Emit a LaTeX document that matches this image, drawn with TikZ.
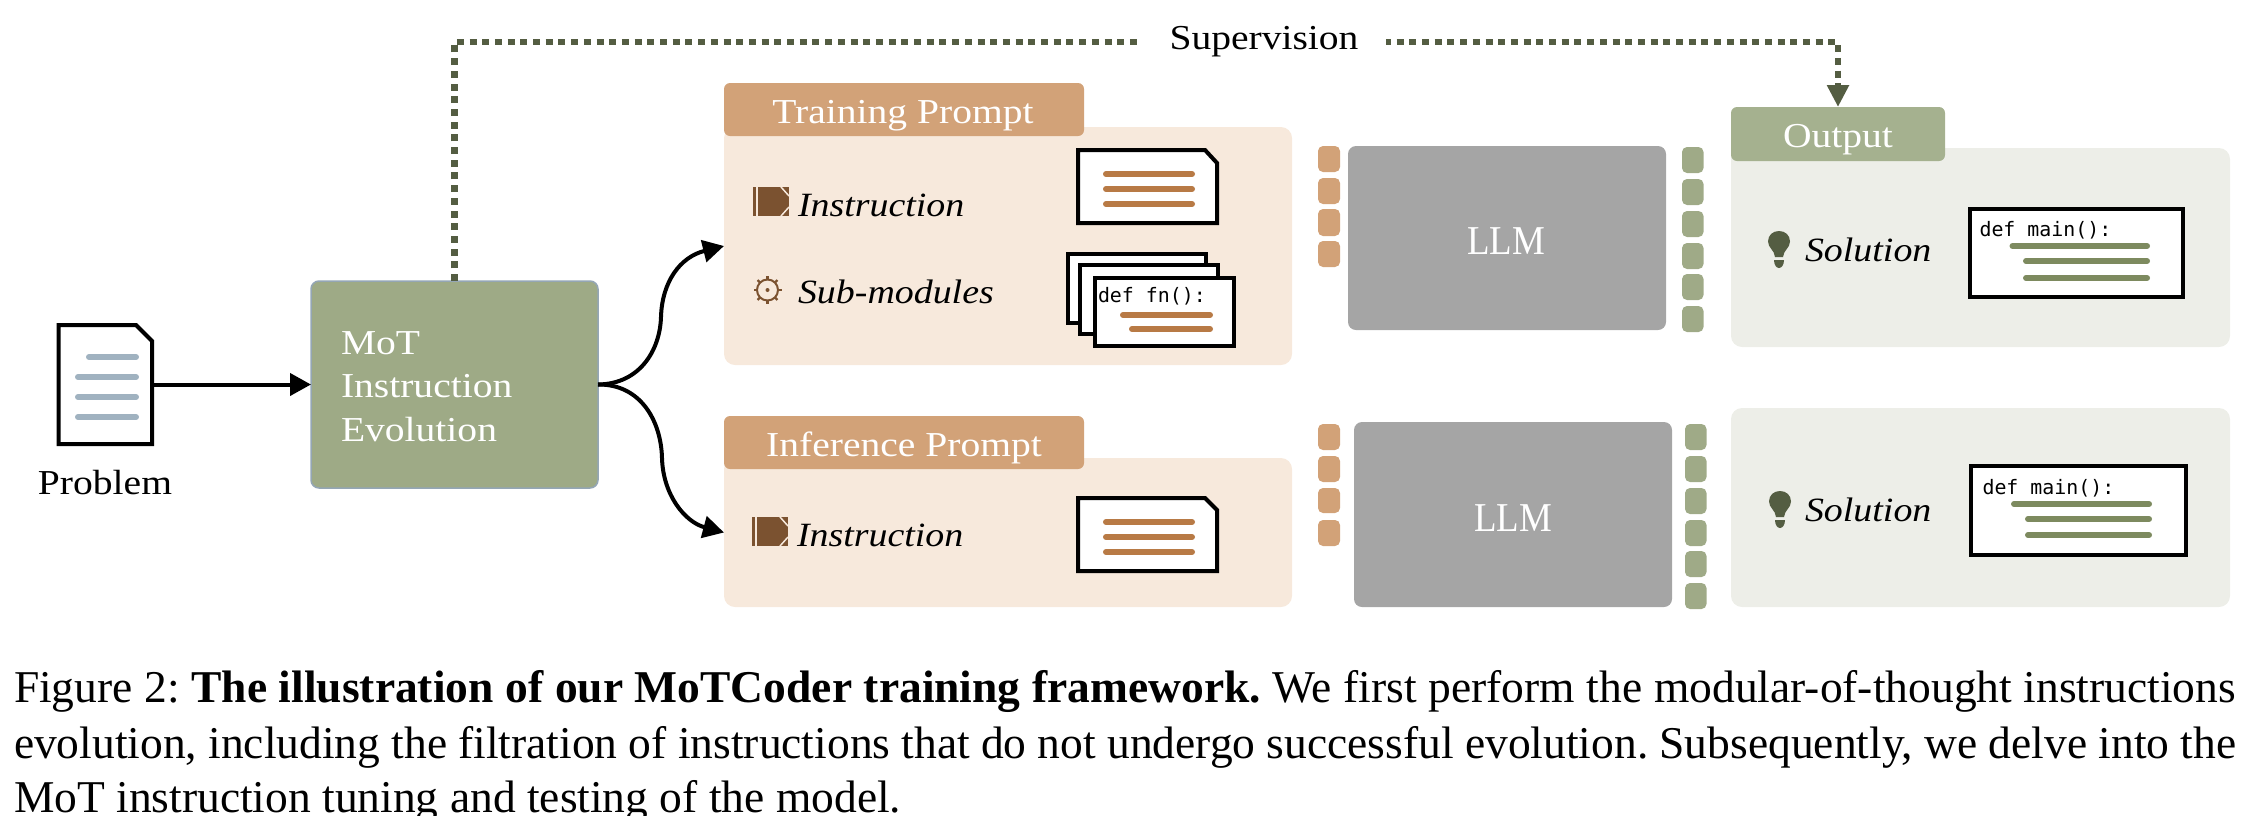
\documentclass[tikz,border=0pt]{standalone}
\usepackage{fontspec}
\usetikzlibrary{arrows.meta}
\setmainfont{Liberation Serif}
\newfontfamily\cam[FakeStretch=1.13]{Liberation Serif}
\newfontfamily\camit[FakeStretch=1.115]{Liberation Serif Italic}
\newfontfamily\camn[FakeStretch=0.9]{Liberation Serif}
\newfontfamily\codef{DejaVu Sans Mono}
\definecolor{motfill}{HTML}{9EAA86}
\definecolor{motedge}{HTML}{94A6B5}
\definecolor{tabbrown}{HTML}{D2A278}
\definecolor{panelbrown}{HTML}{F7E9DC}
\definecolor{llmgrey}{HTML}{A5A5A5}
\definecolor{chipgreen}{HTML}{9FAA87}
\definecolor{tabgreen}{HTML}{A5B18F}
\definecolor{panelgreen}{HTML}{EDEEE8}
\definecolor{darkolive}{HTML}{545D42}
\definecolor{lineblue}{HTML}{A0B2C0}
\definecolor{linebrown}{HTML}{B87A45}
\definecolor{linegreen}{HTML}{7D8A5F}
\definecolor{bookbrown}{HTML}{7B5230}
\tikzset{
  rbase/.style={anchor=north west,inner sep=0pt,outer sep=0pt},
  ghost/.style={rbase},
  motbox/.style={rbase,fill=motfill,draw=motedge,line width=1.5pt,rounded corners=8pt},
  panelb/.style={rbase,fill=panelbrown,rounded corners=11pt},
  tabb/.style={rbase,fill=tabbrown,rounded corners=6pt},
  panelg/.style={rbase,fill=panelgreen,rounded corners=11pt},
  tabg/.style={rbase,fill=tabgreen,rounded corners=6pt},
  chipb/.style={rbase,fill=tabbrown,rounded corners=5pt},
  chipg/.style={rbase,fill=chipgreen,rounded corners=5pt},
  llmbox/.style={rbase,fill=llmgrey,rounded corners=8pt},
  paper/.style={rbase,fill=white,draw=black,line width=4pt},
  sheet/.style={fill=white,draw=black,line width=4pt,miter limit=10},
  bar/.style={line width=6pt,line cap=round},
  lab/.style={inner sep=0pt,outer sep=0pt,anchor=base,yshift=-0.7pt,font=\cam\fontsize{35}{35}\selectfont},
  wlab/.style={lab,text=white},
  llmlab/.style={inner sep=0pt,outer sep=0pt,anchor=base,text=white,font=\camn\fontsize{41}{41}\selectfont},
  ital/.style={inner sep=0pt,outer sep=0pt,anchor=base west,yshift=-1.2pt,font=\camit\fontsize{34}{34}\selectfont},
  codetxt/.style={inner sep=0pt,outer sep=0pt,anchor=base west,font=\codef\fontsize{19.9}{20}\selectfont},
  captxt/.style={inner sep=0pt,outer sep=0pt,anchor=base west,font=\frenchspacing\fontsize{45.5}{46}\selectfont},
  flow/.style={line width=4pt,draw=black,-{Triangle[length=21pt,width=22pt]}},
  superv/.style={line width=6.5pt,draw=darkolive,dash pattern=on 7pt off 5.7pt,-{Triangle[length=22pt,width=21pt,fill=darkolive]}},
}
\newcommand{\rb}[6]{%
  \pgfmathsetmacro\rbw{#5-#3}\pgfmathsetmacro\rbh{#6-#4}%
  \node[#1,minimum width=\rbw pt,minimum height=\rbh pt] (#2) at (#3,#4) {};}
\newcommand{\txtbar}[4]{\draw[bar,#1] (#2+3,#4) -- (#3-3,#4);}
\newcommand{\bookicon}[2]{%
  \begin{scope}[shift={(#1,#2)}]
    \fill[bookbrown] (0,0) rectangle (36,29);
    \draw[panelbrown,line width=1.2pt] (4,0) -- (4,29);
    \draw[panelbrown,line width=1.5pt] (28,0) -- (36,9) (36,20) -- (28,29);
  \end{scope}}
\newcommand{\bulbicon}[2]{%
  \begin{scope}[shift={(#1,#2)}]
    \fill[darkolive] (-4,26) .. controls (-4.5,19) and (-11,17) .. (-11,10.5)
      .. controls (-11,4) and (-6,0) .. (0,0)
      .. controls (6,0) and (11,4) .. (11,10.5)
      .. controls (11,17) and (4.5,19) .. (4,26) -- cycle;
    \fill[darkolive] (-5,29) -- (5,29) .. controls (5,34) and (2.5,37) .. (0,37)
      .. controls (-2.5,37) and (-5,34) .. (-5,29) -- cycle;
  \end{scope}}
\begin{document}
\begin{tikzpicture}[x=1pt,y=-1pt]
\useasboundingbox (0,0) rectangle (2243,815);

% problem document
\rb{ghost}{doc}{56.5}{323}{154}{446}
\draw[sheet] (58.5,325) -- (136,325) -- (152,341) -- (152,444) -- (58.5,444) -- cycle;
\txtbar{lineblue}{86}{139}{357}
\txtbar{lineblue}{75}{139}{377}
\txtbar{lineblue}{75}{139}{397}
\txtbar{lineblue}{75}{139}{417}
\node[lab] (problem) at (105,494) {Problem};

% MoT box
\rb{motbox}{mot}{311}{281}{598}{488}
\node[lab,anchor=base west,text=white] (mot1) at (341,354) {MoT};
\node[lab,anchor=base west,text=white] (mot2) at (341,397) {Instruction};
\node[lab,anchor=base west,text=white] (mot3) at (341,441) {Evolution};

% training prompt
\rb{panelb}{train}{724}{127}{1292}{365}
\rb{tabb}{traintab}{724}{83}{1084}{136}
\node[wlab] (trainlab) at (903,123) {Training Prompt};
\bookicon{753}{187}
\node[ital] (ins1) at (798,215) {Instruction};
\begin{scope}[shift={(767.5,290)}]
  \draw[bookbrown,line width=2pt] (0,0) circle (10.5);
  \fill[bookbrown] (0,0) circle (2);
  \foreach \a in {0,45,...,315}{\draw[bookbrown,line width=2.4pt] (\a:10) -- (\a:14);}
\end{scope}
\node[ital] (sub) at (798,302) {Sub-modules};
\draw[sheet] (1078,150) -- (1205,150) -- (1217,163) -- (1217,223) -- (1078,223) -- cycle;
\txtbar{linebrown}{1103}{1195}{174}
\txtbar{linebrown}{1103}{1195}{189}
\txtbar{linebrown}{1103}{1195}{204}
\rb{paper}{stack1}{1068}{254}{1206}{323}
\rb{paper}{stack2}{1079.5}{265}{1218}{334}
\rb{paper}{stack3}{1095}{278}{1234}{346}
\node[codetxt] (fn) at (1098,302) {def fn():};
\txtbar{linebrown}{1120}{1213}{315}
\txtbar{linebrown}{1129}{1213}{329}

% inference prompt
\rb{panelb}{inf}{724}{458}{1292}{607}
\rb{tabb}{inftab}{724}{416}{1084}{469}
\node[wlab] (inflab) at (904,456) {Inference Prompt};
\bookicon{752}{517}
\node[ital] (ins2) at (797,545) {Instruction};
\draw[sheet] (1078,498) -- (1205,498) -- (1217,510) -- (1217,571) -- (1078,571) -- cycle;
\txtbar{linebrown}{1103}{1195}{522}
\txtbar{linebrown}{1103}{1195}{537}
\txtbar{linebrown}{1103}{1195}{552}

% chips before LLM
\rb{chipb}{ca1}{1318}{146}{1340}{172}
\rb{chipb}{ca2}{1318}{178}{1340}{204}
\rb{chipb}{ca3}{1318}{209}{1340}{236}
\rb{chipb}{ca4}{1318}{241}{1340}{267}
\rb{chipb}{cb1}{1318}{424}{1340}{450}
\rb{chipb}{cb2}{1318}{456}{1340}{482}
\rb{chipb}{cb3}{1318}{488}{1340}{513}
\rb{chipb}{cb4}{1318}{520}{1340}{546}

% LLM
\rb{llmbox}{llma}{1348}{146}{1666}{330}
\node[llmlab] (llmlaba) at (1506,254) {LLM};
\rb{llmbox}{llmb}{1354}{422}{1672}{607}
\node[llmlab] (llmlabb) at (1513,531) {LLM};

% chips after LLM
\rb{chipg}{ga1}{1682}{147}{1703.5}{173}
\rb{chipg}{ga2}{1682}{179}{1703.5}{205}
\rb{chipg}{ga3}{1682}{211}{1703.5}{237}
\rb{chipg}{ga4}{1682}{243}{1703.5}{269}
\rb{chipg}{ga5}{1682}{274}{1703.5}{300}
\rb{chipg}{ga6}{1682}{306}{1703.5}{332}
\rb{chipg}{gb1}{1685}{424}{1706.5}{450}
\rb{chipg}{gb2}{1685}{456}{1706.5}{482}
\rb{chipg}{gb3}{1685}{488}{1706.5}{514}
\rb{chipg}{gb4}{1685}{520}{1706.5}{546}
\rb{chipg}{gb5}{1685}{551}{1706.5}{577}
\rb{chipg}{gb6}{1685}{583}{1706.5}{609}

% output
\rb{panelg}{outa}{1731}{148}{2230}{347}
\rb{tabg}{output}{1731}{107}{1945}{161}
\node[wlab] (outlab) at (1838,147) {Output};
\bulbicon{1779}{231}
\node[ital] (sola) at (1805,260) {Solution};
\rb{paper}{codea}{1969.5}{209}{2183}{297}
\node[codetxt] (defa) at (1979.5,236) {def main():};
\txtbar{linegreen}{2009.5}{2150}{246}
\txtbar{linegreen}{2023}{2150}{261}
\txtbar{linegreen}{2023}{2150}{278}

\rb{panelg}{outb}{1731}{408}{2230}{607}
\bulbicon{1780}{491}
\node[ital] (solb) at (1805,520) {Solution};
\rb{paper}{codeb}{1971}{466}{2185.5}{555}
\node[codetxt] (defb) at (1982.5,494) {def main():};
\txtbar{linegreen}{2011}{2152}{504}
\txtbar{linegreen}{2025}{2152}{519}
\txtbar{linegreen}{2025}{2152}{535}

% connectors
\draw[flow] (doc.east) -- (mot.west);
\draw[flow] (mot.east) .. controls (640,384) and (660,350) .. (661,317)
   .. controls (662,282) and (680,257) .. (train.west);
\draw[flow] (mot.east) .. controls (640,384) and (661,420) .. (662,458)
   .. controls (663,495) and (685,522) .. (inf.west);
\coordinate (suplevel) at (1264,42);
\draw[superv] (mot.north) -- (mot.north |- suplevel) -- (output.north |- suplevel) -- (output.north);
\node[lab,fill=white,inner xsep=28pt,inner ysep=8pt,anchor=base] (sup) at (1264,49) {Supervision};

% caption
\node[captxt] (cap1) at (14,702) {\hbox to 2222pt{Figure 2: \textbf{The illustration of our MoTCoder training framework.} We first perform the modular-of-thought instructions}};
\node[captxt] (cap2) at (14,758) {\hbox to 2222pt{evolution, including the filtration of instructions that do not undergo successful evolution. Subsequently, we delve into the}};
\node[captxt] (cap3) at (14,812) {MoT instruction tuning and testing of the model.};
\end{tikzpicture}
\end{document}
